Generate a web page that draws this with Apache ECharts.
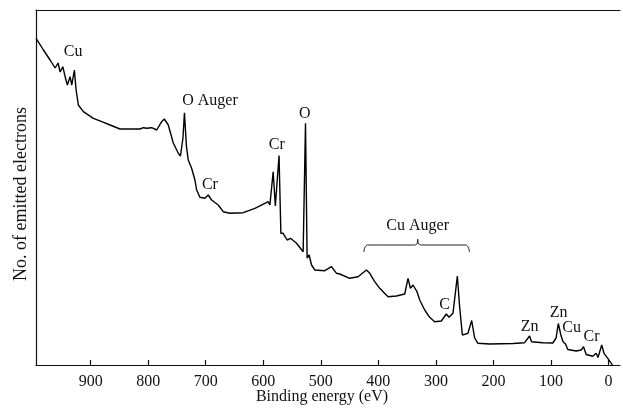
<!DOCTYPE html>
<html>
<head>
<meta charset="utf-8">
<script src="https://cdn.jsdelivr.net/npm/echarts@6/dist/echarts.min.js"></script>
<style>html,body{margin:0;padding:0;background:#fff}#c{width:623px;height:408px}</style>
</head>
<body>
<div id="c"></div>
<script>
// Binding energy (eV)
const energy = [994.8,982.1,970.5,961.8,956.6,953.1,948.4,944.4,940.5,935.8,932.8,928.3,925.3,921.4,912.7,895.3,880.7,866.3,849.0,814.2,808.5,802.6,793.9,785.2,776.6,772.0,765.1,756.4,747.7,743.9,739.6,737.0,733.5,730.4,724.5,718.8,715.8,710.1,701.4,695.7,689.8,678.3,669.6,658.0,634.9,614.6,597.2,591.5,588.5,582.8,579.0,572.6,569.4,565.5,558.5,552.6,542.2,530.7,526.6,523.8,520.3,516.1,510.4,493.1,481.4,472.7,467.0,449.7,435.2,432.3,420.7,414.9,406.3,397.6,383.2,368.6,354.2,348.4,344.3,339.8,332.8,328.1,319.4,310.8,302.1,290.5,281.8,277.3,270.3,262.7,258.7,254.0,244.3,237.8,232.6,226.9,206.6,166.1,145.8,137.2,133.7,114.1,96.7,91.1,87.2,82.8,79.0,74.7,70.7,56.1,47.4,43.4,38.7,27.3,21.4,18.2,11.8,7.8,1.2,-4.7,-6.9];
// No. of emitted electrons (arbitrary units)
const counts = [326.7,315,305,297,302,293,298.3,288.3,280,288.3,280,295,275,260,253.3,246.7,243.3,240,236,236,237.3,236.7,237.3,235,243.3,246,240,222,211.7,209,227,252.3,218.3,205,196.7,185,175,167.7,166.7,170,165,160,153.3,151.7,152.3,156.7,161.7,163.3,160,193.3,159,209.5,131.7,131.7,125,126.7,121.7,113.3,241.7,107,110,100,95,94.3,98.3,91.7,91,86.7,88.3,90,95,91.7,83.3,76.7,68.3,69,71,86.7,76.7,80,73.3,65,55,47.7,43.3,44,51,47.7,51.7,89,58.3,30,31.7,44.5,27,21.7,21,21.5,22.3,29,23.3,22.3,22,27,41.5,30,23.3,21,15.5,14,15,18.3,10.5,8.7,11.7,7.5,20,11.7,6.7,1.7,0];
// Tick labels
const tickValues = [0,100,200,300,400,500,600,700,800,900];
// Peak annotations: text and position (energy, counts)
const annText = ['Cu','O Auger','Cr','Cr','O','Cu Auger','C','Zn','Zn','Cu','Cr'];
const annE = [930.6,692.7,692.7,576.4,527.8,331.6,284.7,137.2,86.8,64.2,29.5];
const annI = [313,264,180,220,251,139,60,38,52,37,28];
// Brace over the Cu Auger region (energy, counts)
const braceE = [425.3,423,419,338,333,331.6,330,325,248,244,241.3];
const braceI = [113,118,120,120,121,126,121,120,120,118,113];

const serif = '"Liberation Serif","DejaVu Serif",serif';
const chart = echarts.init(document.getElementById('c'), null, {renderer:'canvas'});
chart.setOption({
  animation:false,
  backgroundColor:'#fff',
  grid:{left:36,right:3,top:10,bottom:43,show:false},
  graphic:[
    {type:'text',x:322,y:397,style:{text:'Binding energy (eV)',x:0,y:0,align:'center',verticalAlign:'middle',font:'16px '+serif,fill:'#111'}},
    {type:'text',rotation:Math.PI/2,x:21,y:194,style:{text:'No. of emitted electrons',x:0,y:0,align:'center',verticalAlign:'middle',font:'18px '+serif,fill:'#111'}}
  ],
  xAxis:[{
    type:'value', inverse:true, min:-20, max:995,
    axisLine:{show:true,onZero:false,lineStyle:{color:'#111',width:1.2}},
    axisTick:{show:true,inside:true,length:5,customValues:tickValues,lineStyle:{color:'#111',width:1.2}},
    axisLabel:{customValues:tickValues,margin:9,fontFamily:serif,fontSize:16,color:'#111'},
    splitLine:{show:false}
  },{
    type:'value', position:'top', inverse:true, min:-20, max:995,
    axisLine:{show:true,onZero:false,lineStyle:{color:'#111',width:1.2}},
    axisTick:{show:false}, axisLabel:{show:false}, splitLine:{show:false}
  }],
  yAxis:{
    type:'value', min:0, max:355, position:'left',
    axisLine:{show:true,onZero:false,lineStyle:{color:'#111',width:1.2}},
    axisTick:{show:false}, axisLabel:{show:false}, splitLine:{show:false}
  },
  series:[{
    type:'line', data:energy.map((e,i)=>[e,counts[i]]), symbol:'none',
    lineStyle:{color:'#000',width:1.4}, z:3,
    markPoint:{
      symbol:'circle', symbolSize:0, silent:true,
      label:{show:true,position:'inside',fontFamily:serif,fontSize:16,color:'#111',formatter:p=>p.name},
      data:annText.map((t,i)=>({name:t,coord:[annE[i],annI[i]]}))
    }
  },{
    type:'line', data:braceE.map((e,i)=>[e,braceI[i]]), symbol:'none', smooth:0.3,
    lineStyle:{color:'#222',width:1}, z:2
  }]
});
</script>
</body>
</html>
